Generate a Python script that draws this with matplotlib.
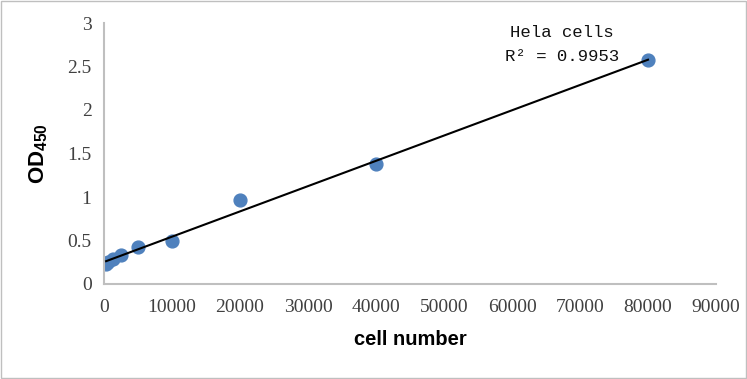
import numpy as np
import matplotlib
matplotlib.use("Agg")
import matplotlib.pyplot as plt
from matplotlib.patches import Rectangle

# data
cell_number = [312, 625, 1250, 2500, 5000, 10000, 20000, 40000, 80000]
od450 = [0.23, 0.25, 0.29, 0.33, 0.42, 0.49, 0.96, 1.38, 2.57]
x_ticks = [0, 10000, 20000, 30000, 40000, 50000, 60000, 70000, 80000, 90000]
y_ticks = [0, 0.5, 1, 1.5, 2, 2.5, 3]
y_tick_labels = ["0", "0.5", "1", "1.5", "2", "2.5", "3"]

plt.rcParams['mathtext.fontset'] = 'custom'
plt.rcParams['mathtext.bf'] = 'Liberation Sans:bold'
plt.rcParams['mathtext.rm'] = 'Liberation Sans'

fig = plt.figure(figsize=(7.47, 3.79), dpi=100)
ax = fig.add_axes([104 / 747, 1 - 284 / 379, 612 / 747, 261 / 379])

# linear trendline over the data range
k, b = np.polyfit(cell_number, od450, 1)
xs = np.array([min(cell_number), max(cell_number)])
ax.plot(xs, k * xs + b, color="black", lw=1.5, zorder=3)
ax.scatter(cell_number, od450, s=85, color="#4F81BD", zorder=2)

ax.set_xlim(0, 90000)
ax.set_ylim(0, 3)
ax.set_xticks(x_ticks)
ax.set_yticks(y_ticks)
ax.set_yticklabels(y_tick_labels)
ax.tick_params(length=0, labelsize=14, colors="#404040")
ax.tick_params(axis="x", pad=11)
ax.tick_params(axis="y", pad=9)
for lab in ax.get_xticklabels() + ax.get_yticklabels():
    lab.set_fontfamily("Liberation Serif")

for side in ["top", "right"]:
    ax.spines[side].set_visible(False)
for side in ["left", "bottom"]:
    ax.spines[side].set_color("#BFBFBF")
    ax.spines[side].set_linewidth(1.5)

ax.set_xlabel("cell number", fontsize=14.5, fontweight="bold",
              fontfamily="Liberation Sans", labelpad=10)
ax.set_ylabel(r"$\mathbf{OD}_{\mathbf{450}}$", fontsize=16)
ax.yaxis.set_label_coords(-0.088, 0.5)

ax.text(0.748, 0.963, "Hela cells", transform=ax.transAxes, ha="center",
        va="center", fontsize=12.5, fontfamily="Liberation Mono", color="#111111")
ax.text(0.748, 0.872, "R² = 0.9953", transform=ax.transAxes, ha="center",
        va="center", fontsize=12.5, fontfamily="Liberation Mono", color="#111111")

fig.patches.append(Rectangle((0.002, 0.003), 0.996, 0.994, transform=fig.transFigure,
                             fill=False, edgecolor="#BFBFBF", lw=1))

fig.savefig("out.png", dpi=100)
